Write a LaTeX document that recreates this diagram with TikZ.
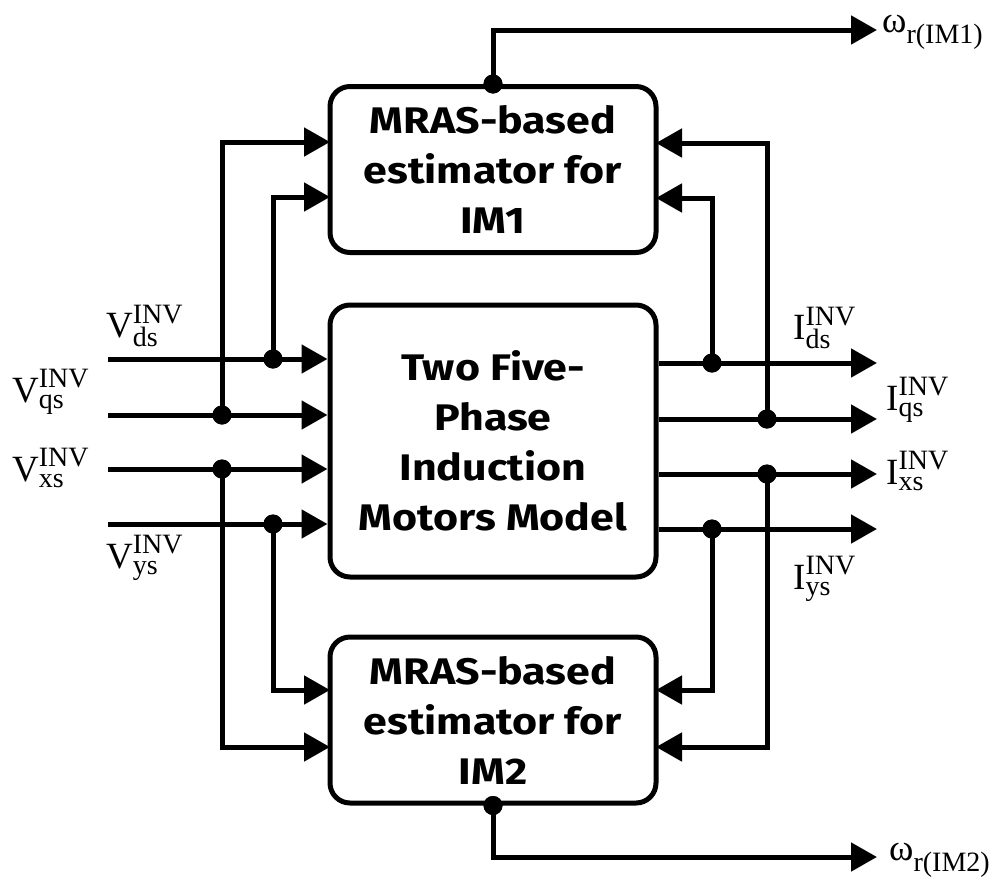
\documentclass[tikz,border=0pt]{standalone}
\usepackage{amsmath}
\usepackage{fontspec}
\setmainfont{Liberation Serif}
\newfontfamily\boxfont[FakeStretch=1.16]{Fira Sans}
\usetikzlibrary{arrows.meta}
\DeclareMathSizes{37}{37}{28}{22}
\newcommand\sig[3]{$\text{#1}^{\text{#2}}_{\text{#3}}$}
\tikzset{
  wire/.style={line width=5pt},
  arr/.style={wire,-{Triangle[length=26pt,width=28pt]}},
  blk/.style={draw,line width=5pt,rounded corners=20pt,align=center,
    font=\boxfont\bfseries\fontsize{37}{50}\selectfont,inner sep=0pt,
    minimum width=326pt},
  jdot/.style={circle,fill,inner sep=0pt,minimum size=19pt},
  lab/.style={inner sep=0pt,anchor=west,font=\fontsize{37}{40}\selectfont}
}
\begin{document}
\begin{tikzpicture}[x=1pt,y=-1pt]
\useasboundingbox (0,0) rectangle (1007,879);
% blocks
\node[blk,minimum height=166pt] (top) at (493,169.5) {MRAS-based\\estimator for\\IM1};
\node[blk,minimum height=272pt] (mid) at (493,441) {Two Five-\\Phase\\Induction\\Motors Model};
\node[blk,minimum height=166pt] (bot) at (493,720) {MRAS-based\\estimator for\\IM2};
% input start points
\coordinate (vds) at (108,359);
\coordinate (vqs) at (108,415);
\coordinate (vxs) at (108,469);
\coordinate (vys) at (108,524);
% output end points
\coordinate (ids) at (877,363);
\coordinate (iqs) at (877,419);
\coordinate (ixs) at (877,474);
\coordinate (iys) at (877,529);
% junctions
\node[jdot] (jvds) at (273,359) {};
\node[jdot] (jvqs) at (222,415) {};
\node[jdot] (jvxs) at (222,469) {};
\node[jdot] (jvys) at (273,524) {};
\node[jdot] (jids) at (712,363) {};
\node[jdot] (jiqs) at (767,419) {};
\node[jdot] (jixs) at (767,474) {};
\node[jdot] (jiys) at (712,529) {};
\node[jdot] (o1) at (top.north) {};
\node[jdot] (o2) at (bot.south) {};
% block entry points
\coordinate (tl1) at (330,142);
\coordinate (tl2) at (330,197);
\coordinate (tr1) at (656,143);
\coordinate (tr2) at (656,198);
\coordinate (bl1) at (330,690);
\coordinate (bl2) at (330,747);
\coordinate (br1) at (656,690);
\coordinate (br2) at (656,747);
\coordinate (w1) at (877,30);
\coordinate (w2) at (877,857);
% input wires
\draw[arr] (vds) -- (vds -| mid.west);
\draw[arr] (vqs) -- (vqs -| mid.west);
\draw[arr] (vxs) -- (vxs -| mid.west);
\draw[arr] (vys) -- (vys -| mid.west);
% output wires
\draw[arr] (ids -| mid.east) -- (ids);
\draw[arr] (iqs -| mid.east) -- (iqs);
\draw[arr] (ixs -| mid.east) -- (ixs);
\draw[arr] (iys -| mid.east) -- (iys);
% feeds to estimators
\draw[arr] (jvqs.center) |- (tl1);
\draw[arr] (jvds.center) |- (tl2);
\draw[arr] (jvys.center) |- (bl1);
\draw[arr] (jvxs.center) |- (bl2);
\draw[arr] (jiqs.center) |- (tr1);
\draw[arr] (jids.center) |- (tr2);
\draw[arr] (jiys.center) |- (br1);
\draw[arr] (jixs.center) |- (br2);
% speed outputs
\draw[arr] (o1.center) |- (w1);
\draw[arr] (o2.center) |- (w2);
% redraw dots on top
\foreach \n in {jvds,jvqs,jvxs,jvys,jids,jiqs,jixs,jiys,o1,o2}
  \fill (\n) circle (9.5pt);
% labels
\node[lab] (lvds) at (106,326) {\sig{V}{INV}{ds}};
\node[lab] (lvqs) at (12,392) {\sig{V}{INV}{qs}};
\node[lab] (lvxs) at (12,468) {\sig{V}{INV}{xs}};
\node[lab] (lvys) at (106,558) {\sig{V}{INV}{ys}};
\node[lab] (lids) at (793,328) {\sig{I}{INV}{ds}};
\node[lab] (liqs) at (886,400) {\sig{I}{INV}{qs}};
\node[lab] (lixs) at (886,471) {\sig{I}{INV}{xs}};
\node[lab] (liys) at (793,579) {\sig{I}{INV}{ys}};
\node[lab] (lw1) at (882,32) {$\text{ω}_{\text{r(IM1)}}$};
\node[lab] (lw2) at (889,860) {$\text{ω}_{\text{r(IM2)}}$};
\end{tikzpicture}
\end{document}
